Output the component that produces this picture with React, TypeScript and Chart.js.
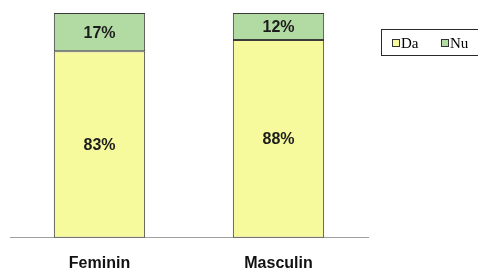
import React, { useEffect, useRef } from "react";
import { Chart, registerables } from "chart.js";

Chart.register(...registerables);

const categories = ["Feminin", "Masculin"];
const seriesNames = ["Da", "Nu"];
const daValues = [83, 88];
const nuValues = [17, 12];

const YELLOW = "#F6FA9C";
const GREEN = "#B2DBA3";

const dataLabelsPlugin = {
  id: "dataLabelsCustom",
  afterDatasetsDraw(chart: any) {
    const ctx = chart.ctx;
    ctx.save();
    ctx.font = "bold 16px 'Liberation Sans', Arial, sans-serif";
    ctx.fillStyle = "#1c1c1c";
    ctx.textAlign = "center";
    ctx.textBaseline = "middle";
    chart.data.datasets.forEach((ds: any, di: number) => {
      const meta = chart.getDatasetMeta(di);
      meta.data.forEach((bar: any, i: number) => {
        const p = bar.getProps(["x", "y", "base"], true);
        const cy = (p.y + p.base) / 2;
        ctx.fillText(ds.data[i] + "%", p.x, cy + 1);
      });
    });
    ctx.restore();
  },
};

const legendPlugin = {
  id: "legendCustom",
  afterDraw(chart: any) {
    const ctx = chart.ctx;
    ctx.save();
    const left = 381.5;
    const top = 29.5;
    const bottom = 55.5;
    ctx.strokeStyle = "#2a2a2a";
    ctx.lineWidth = 1;
    ctx.strokeRect(left, top, 120, bottom - top);
    ctx.font = "15px 'Liberation Serif', 'Times New Roman', serif";
    ctx.textBaseline = "alphabetic";
    ctx.textAlign = "left";
    const xs = [392, 441];
    chart.data.datasets.forEach((ds: any, i: number) => {
      const x = xs[i];
      ctx.fillStyle = ds.backgroundColor;
      ctx.fillRect(x + 0.5, 39.5, 7, 7);
      ctx.strokeStyle = "#333";
      ctx.strokeRect(x + 0.5, 39.5, 7, 7);
      ctx.fillStyle = "#000";
      ctx.fillText(ds.label, x + 9, 48);
    });
    ctx.restore();
  },
};

const CANVAS_H = 289;

export default function App() {
  const ref = useRef<HTMLCanvasElement | null>(null);
  useEffect(() => {
    document.body.style.margin = "0";
    const chart = new Chart(ref.current as HTMLCanvasElement, {
      type: "bar",
      data: {
        labels: categories,
        datasets: [
          {
            label: seriesNames[0],
            data: daValues,
            backgroundColor: YELLOW,
            borderColor: "#3a3a3a",
            borderWidth: 1,
            borderSkipped: false,
            categoryPercentage: 1,
            barPercentage: 0.51,
          },
          {
            label: seriesNames[1],
            data: nuValues,
            backgroundColor: GREEN,
            borderColor: "#3a3a3a",
            borderWidth: 1,
            borderSkipped: false,
            categoryPercentage: 1,
            barPercentage: 0.51,
          },
        ],
      },
      options: {
        animation: false,
        responsive: false,
        maintainAspectRatio: false,
        layout: { padding: { left: 10, right: 110, top: 13, bottom: 0 } },
        plugins: {
          legend: { display: false },
          tooltip: { enabled: false },
        },
        scales: {
          x: {
            stacked: true,
            grid: { display: false, drawTicks: false },
            border: { display: true, color: "#a0a0a0", width: 1 },
            ticks: {
              color: "#111",
              font: { family: "'Liberation Sans', Arial, sans-serif", size: 16, weight: "bold" },
              padding: 16,
            },
          },
          y: {
            stacked: true,
            display: false,
            min: 0,
            max: 100,
          },
        },
      },
      plugins: [dataLabelsPlugin, legendPlugin],
    });
    return () => chart.destroy();
  }, []);
  return (
    <div style={{ position: "absolute", left: 0, top: 0, width: 478, height: 269, overflow: "hidden" }}>
      <canvas ref={ref} width={478} height={CANVAS_H} style={{ width: 478, height: CANVAS_H }} />
    </div>
  );
}
